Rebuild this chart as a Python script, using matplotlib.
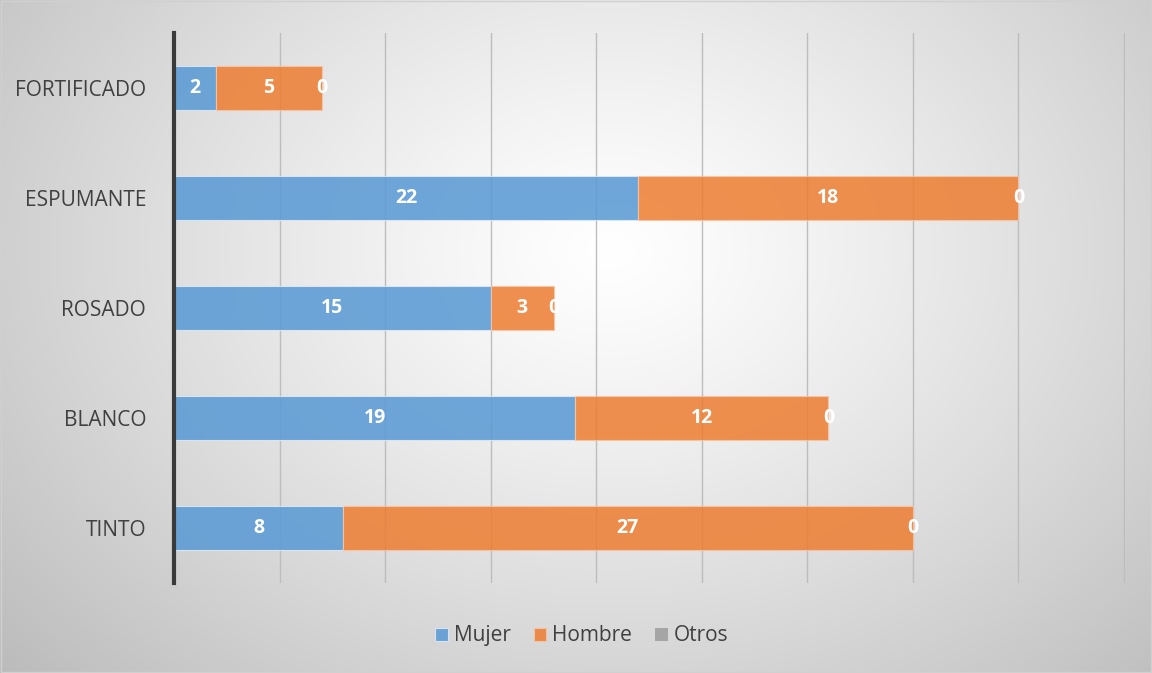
import matplotlib.pyplot as plt
import numpy as np

categorias = ['TINTO', 'BLANCO', 'ROSADO', 'ESPUMANTE', 'FORTIFICADO']
mujer = [8, 19, 15, 22, 2]
hombre = [27, 12, 3, 18, 5]
otros = [0, 0, 0, 0, 0]

plt.rcParams['font.family'] = ['Open Sans', 'DejaVu Sans']

fig = plt.figure(figsize=(11.52, 6.73), dpi=100)

# fondo con degradado radial
h, w = 673, 1152
yy, xx = np.mgrid[0:h, 0:w]
d = np.sqrt((xx - 610) ** 2 + ((yy - 250) * 1.3) ** 2) / 700.0
g = np.clip(1.0 - 0.22 * d ** 1.2, 0, 1)
bg = fig.add_axes([0, 0, 1, 1], zorder=-1)
bg.imshow(np.dstack([g, g, g]), aspect='auto', extent=[0, 1, 0, 1])
bg.axis('off')
fig.patches.append(plt.Rectangle((0.001, 0.001), 0.998, 0.997, transform=fig.transFigure,
                                 fill=False, edgecolor='#d0d0d0', lw=1))

ax = fig.add_axes([0.151, 0.134, 0.8256, 0.817])
ax.patch.set_alpha(0)

y = np.arange(len(categorias))
izq_h = np.array(mujer)
izq_o = izq_h + np.array(hombre)
b1 = ax.barh(y, mujer, height=0.4, color='#5B9BD5', alpha=0.88, edgecolor='#dfe9f5', lw=0.8, label='Mujer', zorder=2)
b2 = ax.barh(y, hombre, height=0.4, left=izq_h, color='#ED7D31', alpha=0.85, edgecolor='#f6c7a6', lw=0.8, label='Hombre', zorder=2)
b3 = ax.barh(y, otros, height=0.4, left=izq_o, color='#A5A5A5', label='Otros', zorder=2)

for barras in (b1, b2, b3):
    ax.bar_label(barras, label_type='center', color='white', fontsize=14, fontweight='bold', zorder=3)

ax.set_xlim(0, 45.05)
ax.set_ylim(-0.5, 4.5)
ax.set_xticks(np.arange(0, 46, 5))
ax.xaxis.grid(True, color='#bdbdbd', lw=1, zorder=0)
ax.set_axisbelow(True)
ax.tick_params(axis='x', length=0, labelbottom=False)
ax.tick_params(axis='y', length=0, labelsize=15, labelcolor='#404040', pad=20)
ax.set_yticks(y)
ax.set_yticklabels(categorias)
for s in ('top', 'right', 'bottom'):
    ax.spines[s].set_visible(False)
ax.spines['left'].set_color('#3a3a3a')
ax.spines['left'].set_linewidth(3)

leg = fig.legend(handles=[b1, b2, b3], loc='center', bbox_to_anchor=(0.505, 0.055), ncol=3,
                 frameon=False, fontsize=15, handlelength=0.6, handleheight=0.6,
                 handletextpad=0.3, columnspacing=1.1, labelcolor='#404040')

fig.savefig('out.png', dpi=100)
